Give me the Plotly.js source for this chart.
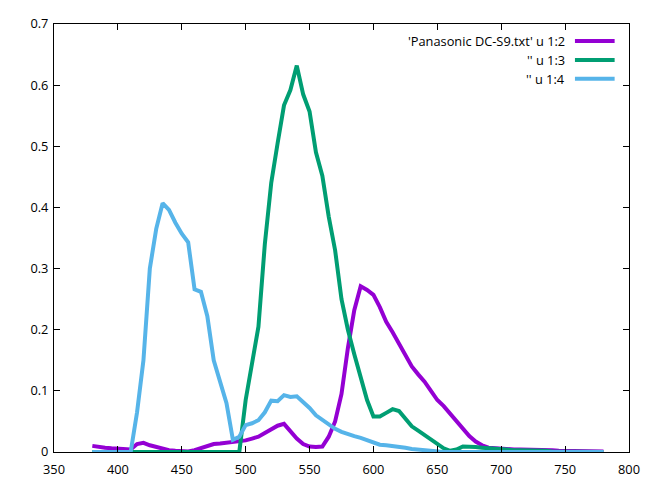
<!DOCTYPE html>
<html>
<head>
<meta charset="utf-8">
<script src="https://cdn.plot.ly/plotly-3.0.1.min.js"></script>
<style>
  html, body { margin: 0; padding: 0; background: #fff; }
  #graphDiv { width: 659px; height: 493px; }
</style>
</head>
<body>
<div id="graphDiv"></div>
<script>
// wavelength (nm), 5 nm steps
const wavelength = [
  380, 385, 390, 395, 400, 405, 410, 415, 420, 425,
  430, 435, 440, 445, 450, 455, 460, 465, 470, 475,
  480, 485, 490, 495, 500, 505, 510, 515, 520, 525,
  530, 535, 540, 545, 550, 555, 560, 565, 570, 575,
  580, 585, 590, 595, 600, 605, 610, 615, 620, 625,
  630, 635, 640, 645, 650, 655, 660, 665, 670, 675,
  680, 685, 690, 695, 700, 705, 710, 715, 720, 725,
  730, 735, 740, 745, 750, 755, 760, 765, 770, 775,
  780
];
// column 2 (red channel)
const col2 = [
  0.010, 0.008, 0.007, 0.006, 0.005, 0.004, 0.004, 0.013, 0.015, 0.011,
  0.008, 0.005, 0.003, 0.002, 0.001, 0.001, 0.003, 0.006, 0.010, 0.013,
  0.014, 0.015, 0.016, 0.018, 0.019, 0.022, 0.025, 0.031, 0.037, 0.043,
  0.046, 0.034, 0.022, 0.013, 0.009, 0.008, 0.009, 0.025, 0.050, 0.095,
  0.170, 0.232, 0.271, 0.265, 0.257, 0.237, 0.213, 0.196, 0.178, 0.158,
  0.140, 0.127, 0.115, 0.100, 0.085, 0.075, 0.063, 0.050, 0.037, 0.026,
  0.017, 0.011, 0.007, 0.006, 0.005, 0.005, 0.004, 0.004, 0.004, 0.003,
  0.003, 0.003, 0.003, 0.002, 0.002, 0.002, 0.002, 0.001, 0.001, 0.001,
  0.001
];
// column 3 (green channel)
const col3 = [
  0, 0, 0, 0, 0, 0, 0, 0, 0, 0,
  0, 0, 0, 0, 0, 0, 0, 0, 0, 0,
  0, 0, 0, 0.000, 0.085, 0.148, 0.205, 0.340, 0.440, 0.505,
  0.567, 0.592, 0.632, 0.585, 0.557, 0.490, 0.452, 0.385, 0.330, 0.250,
  0.200, 0.160, 0.122, 0.085, 0.058, 0.058, 0.064, 0.070, 0.067, 0.055,
  0.042, 0.035, 0.028, 0.020, 0.013, 0.006, 0.002, 0.004, 0.009, 0.009,
  0.008, 0.007, 0.006, 0.005, 0.004, 0.004, 0.003, 0.003, 0.003, 0.002,
  0.002, 0.002, 0.001, 0.001, 0.001, 0.001, 0.001, 0, 0, 0,
  0
];
// column 4 (blue channel)
const col4 = [
  0, 0, 0, 0, 0, 0, 0, 0.065, 0.150, 0.300,
  0.365, 0.407, 0.396, 0.375, 0.357, 0.343, 0.266, 0.262, 0.222, 0.150,
  0.112, 0.080, 0.020, 0.025, 0.044, 0.047, 0.052, 0.065, 0.084, 0.083,
  0.093, 0.090, 0.091, 0.082, 0.072, 0.060, 0.053, 0.045, 0.038, 0.033,
  0.029, 0.026, 0.023, 0.019, 0.015, 0.012, 0.011, 0.010, 0.009, 0.007,
  0.005, 0.004, 0.002, 0.001, 0, 0, 0, 0, 0, 0,
  0, 0, 0, 0, 0, 0, 0, 0, 0, 0,
  0, 0, 0, 0, 0, 0, 0, 0, 0, 0,
  0
];
const seriesNames = ["'Panasonic DC-S9.txt' u 1:2", "'' u 1:3", "'' u 1:4"];
const seriesColors = ["#9400d3", "#009e73", "#56b4e9"];

function make_trace(y, i) {
    return {
        x: wavelength,
        y: y,
        name: seriesNames[i],
        mode: "lines",
        type: "scatter",
        line: {color: seriesColors[i], width: 4},
        showlegend: false
    };
}

// gnuplot-like key: right-aligned text, line sample to its right
const keyRows = [0.960, 0.916, 0.872];
let annotations = [];
let shapes = [];
seriesNames.forEach((name, i) => {
    annotations.push({
        xref: "paper", yref: "paper", x: 0.893, y: keyRows[i],
        xanchor: "right", yanchor: "middle", showarrow: false,
        text: name, font: {size: 12.8, color: "#000"}
    });
    shapes.push({
        type: "line", xref: "paper", yref: "paper",
        x0: 0.906, x1: 0.975, y0: keyRows[i], y1: keyRows[i],
        line: {color: seriesColors[i], width: 4}
    });
});

const axisCommon = {
    showgrid: false, zeroline: false,
    showline: true, linecolor: "#000", linewidth: 1,
    mirror: "ticks", ticks: "inside", ticklen: 6, tickcolor: "#000",
    tickfont: {size: 12.8, color: "#000"}
};

const layout = {
    width: 659, height: 493,
    margin: {l: 54, r: 30, t: 24, b: 41},
    paper_bgcolor: "#fff", plot_bgcolor: "#fff",
    font: {family: "Open Sans, sans-serif"},
    xaxis: Object.assign({range: [350, 800], dtick: 50, tick0: 350, ticklabelstandoff: 6}, axisCommon),
    yaxis: Object.assign({range: [0, 0.7], dtick: 0.1, tick0: 0, ticklabelstandoff: 2}, axisCommon),
    annotations: annotations,
    shapes: shapes
};

Plotly.newPlot("graphDiv",
               [make_trace(col2, 0), make_trace(col3, 1), make_trace(col4, 2)],
               layout,
               {displayModeBar: false, staticPlot: true});
</script>
</body>
</html>
